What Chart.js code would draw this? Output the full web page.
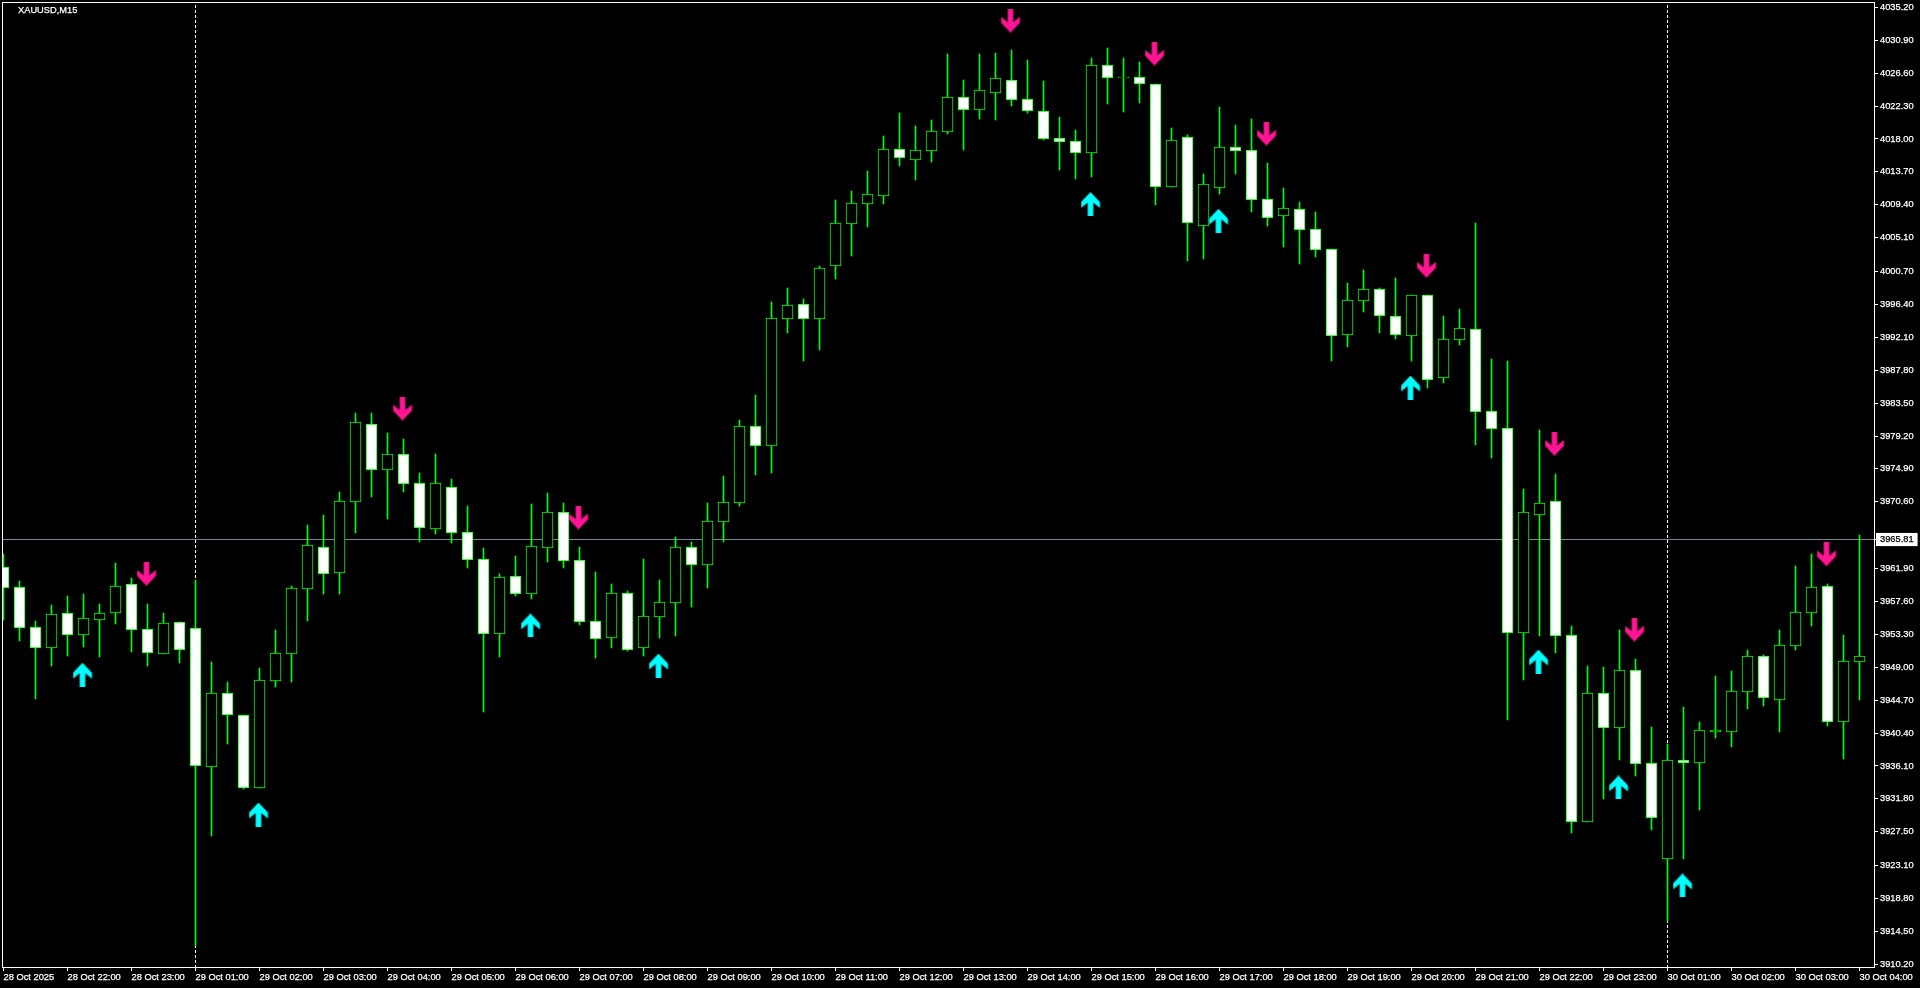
<!DOCTYPE html>
<html>
<head>
<meta charset="utf-8">
<title>XAUUSD,M15</title>
<script src="https://cdn.jsdelivr.net/npm/chart.js@4/dist/chart.umd.min.js"></script>
<style>
  html, body { margin: 0; padding: 0; background: #000; overflow: hidden; }
  canvas { display: block; }
</style>
</head>
<body>
<canvas id="chart" width="1920" height="988"></canvas>
<script>
const symbolLabel = "XAUUSD,M15";

const opens = [
  3962.01, 3959.41, 3954.22, 3951.57, 3955.98, 3953.24, 3955.20, 3956.18, 3959.80, 3953.92,
  3950.79, 3954.81, 3954.07, 3936.00, 3945.60, 3942.71, 3933.30, 3947.26, 3950.79, 3959.31,
  3964.65, 3961.37, 3970.68, 3980.72, 3974.84, 3976.80, 3973.03, 3967.15, 3972.49, 3966.61,
  3963.09, 3953.42, 3960.86, 3958.64, 3964.65, 3969.22, 3962.96, 3954.99, 3952.90, 3958.64,
  3951.59, 3955.64, 3957.47, 3964.65, 3962.43, 3968.05, 3970.53, 3980.46, 3977.98, 3994.57,
  3996.35, 3994.57, 4001.45, 4006.98, 4009.59, 4010.64, 4016.60, 4015.34, 4016.51, 4019.00,
  4023.39, 4021.87, 4024.09, 4025.66, 4023.13, 4021.56, 4018.04, 4017.65, 4016.25, 4027.57,
  4026.05, 4026.01, 4025.13, 4011.81, 4018.21, 4006.72, 4011.68, 4016.91, 4016.52, 4010.12,
  4008.03, 4008.81, 4006.20, 4003.58, 3992.48, 3996.92, 3998.36, 3994.83, 3992.35, 3997.58,
  3986.87, 3991.83, 3993.13, 3982.42, 3980.20, 3953.56, 3968.97, 3970.65, 3953.14, 3928.85,
  3945.58, 3941.14, 3948.58, 3936.41, 3923.99, 3936.76, 3936.53, 3940.61, 3940.66, 3945.82,
  3950.38, 3944.80, 3951.82, 3956.14, 3959.55, 3941.92, 3949.72
];
const closes = [
  3959.46, 3954.22, 3951.57, 3955.88, 3953.24, 3955.39, 3955.98, 3959.56, 3953.92, 3950.89,
  3954.71, 3951.33, 3936.19, 3945.60, 3942.85, 3933.30, 3947.26, 3950.79, 3959.31, 3964.90,
  3961.27, 3970.68, 3980.96, 3974.84, 3976.80, 3973.03, 3967.25, 3973.03, 3966.61, 3963.08,
  3953.42, 3960.73, 3958.64, 3964.78, 3969.22, 3962.96, 3954.99, 3952.77, 3958.64, 3951.33,
  3955.64, 3957.47, 3964.65, 3962.43, 3968.05, 3970.49, 3980.46, 3977.98, 3994.57, 3996.27,
  3994.57, 4001.10, 4006.98, 4009.59, 4010.77, 4016.64, 4015.60, 4016.47, 4019.00, 4023.44,
  4021.87, 4024.35, 4025.92, 4023.18, 4021.74, 4018.08, 4017.69, 4016.25, 4027.62, 4026.05,
  4026.05, 4025.26, 4011.81, 4017.82, 4007.11, 4012.07, 4016.91, 4016.52, 4010.12, 4007.76,
  4008.94, 4006.20, 4003.58, 3992.35, 3996.92, 3998.36, 3994.96, 3992.48, 3997.58, 3986.60,
  3991.83, 3993.27, 3982.42, 3980.20, 3953.56, 3969.15, 3970.41, 3953.14, 3928.85, 3945.58,
  3941.14, 3948.58, 3936.41, 3929.39, 3936.83, 3936.59, 3940.72, 3940.74, 3945.82, 3950.38,
  3945.04, 3951.82, 3956.14, 3959.43, 3941.92, 3949.78, 3950.38
];
const highs = [
  3963.72, 3960.19, 3955.00, 3957.11, 3958.23, 3958.53, 3957.21, 3962.50, 3960.59, 3957.21,
  3956.03, 3954.81, 3960.29, 3949.61, 3947.02, 3942.71, 3948.83, 3953.83, 3959.56, 3967.54,
  3968.86, 3971.85, 3982.09, 3982.09, 3979.59, 3978.76, 3974.25, 3976.80, 3973.57, 3969.94,
  3964.52, 3961.13, 3963.52, 3970.31, 3971.71, 3970.40, 3964.65, 3961.43, 3959.86, 3958.95,
  3963.09, 3960.34, 3965.96, 3965.31, 3970.40, 3973.93, 3981.24, 3984.55, 3996.66, 3998.49,
  3997.05, 4001.36, 4009.90, 4011.16, 4013.77, 4018.34, 4021.35, 4019.65, 4020.43, 4029.05,
  4025.66, 4029.05, 4029.18, 4029.58, 4028.27, 4025.53, 4020.82, 4019.13, 4028.53, 4029.84,
  4028.53, 4028.01, 4025.13, 4019.39, 4018.39, 4013.42, 4022.13, 4019.78, 4020.57, 4014.82,
  4011.55, 4009.72, 4008.42, 4003.58, 3999.14, 4000.84, 3998.49, 3999.80, 3997.58, 3997.58,
  3994.83, 3995.75, 4006.98, 3989.22, 3988.96, 3972.15, 3979.94, 3974.19, 3954.34, 3949.12,
  3949.00, 3953.80, 3950.02, 3941.08, 3938.92, 3943.72, 3941.74, 3947.80, 3948.46, 3951.22,
  3950.56, 3953.80, 3962.19, 3963.75, 3959.79, 3953.14, 3966.21
];
const lows = [
  3955.20, 3952.46, 3944.96, 3949.22, 3950.59, 3951.67, 3950.40, 3954.66, 3951.03, 3949.22,
  3950.79, 3949.61, 3912.59, 3927.08, 3939.03, 3933.16, 3933.30, 3946.53, 3947.07, 3955.10,
  3958.58, 3958.68, 3966.66, 3971.36, 3968.37, 3971.90, 3965.39, 3966.51, 3965.29, 3962.01,
  3943.19, 3950.37, 3958.34, 3957.95, 3962.78, 3962.00, 3954.55, 3950.24, 3951.55, 3951.16,
  3950.50, 3952.85, 3953.11, 3956.90, 3959.38, 3965.39, 3970.10, 3974.14, 3974.41, 3992.70,
  3989.04, 3990.48, 3999.75, 4002.84, 4006.54, 4009.55, 4014.51, 4012.68, 4015.03, 4018.69,
  4016.60, 4020.65, 4020.52, 4022.35, 4021.43, 4017.95, 4013.99, 4012.81, 4013.07, 4022.61,
  4021.56, 4022.74, 4009.42, 4011.81, 4002.10, 4002.37, 4010.86, 4013.47, 4008.50, 4006.68,
  4003.93, 4001.71, 4002.63, 3989.04, 3990.87, 3995.44, 3992.70, 3991.92, 3989.04, 3985.52,
  3986.17, 3991.13, 3978.14, 3976.35, 3942.22, 3947.44, 3953.20, 3950.98, 3927.47, 3928.85,
  3931.85, 3936.89, 3934.91, 3927.77, 3915.96, 3923.99, 3930.47, 3939.76, 3938.68, 3943.66,
  3944.02, 3940.66, 3951.28, 3954.40, 3941.44, 3937.13, 3944.74
];

// signal arrows: candle index and price level
const upArrowBars = [5, 16, 33, 41, 68, 76, 88, 96, 101, 105];
const upArrowPrices = [3948.02, 3929.76, 3954.45, 3949.22, 4009.50, 4007.32, 3985.53, 3949.74, 3933.29, 3920.49];
const downArrowBars = [9, 25, 36, 63, 72, 79, 89, 97, 102, 114];
const downArrowPrices = [3961.20, 3982.79, 3968.55, 4033.45, 4029.14, 4018.69, 4001.44, 3978.18, 3953.91, 3963.75];

const priceTicks = [
  4035.20, 4030.90, 4026.60, 4022.30, 4018.00, 4013.70, 4009.40, 4005.10, 4000.70, 3996.40,
  3992.10, 3987.80, 3983.50, 3979.20, 3974.90, 3970.60, 3961.90, 3957.60, 3953.30, 3949.00,
  3944.70, 3940.40, 3936.10, 3931.80, 3927.50, 3923.10, 3918.80, 3914.50, 3910.20
];
const lastPrice = 3965.68;
const lastPriceLabel = "3965.81";

const timeLabels = [
  "28 Oct 2025", "28 Oct 22:00", "28 Oct 23:00", "29 Oct 01:00", "29 Oct 02:00", "29 Oct 03:00",
  "29 Oct 04:00", "29 Oct 05:00", "29 Oct 06:00", "29 Oct 07:00", "29 Oct 08:00", "29 Oct 09:00",
  "29 Oct 10:00", "29 Oct 11:00", "29 Oct 12:00", "29 Oct 13:00", "29 Oct 14:00", "29 Oct 15:00",
  "29 Oct 16:00", "29 Oct 17:00", "29 Oct 18:00", "29 Oct 19:00", "29 Oct 20:00", "29 Oct 21:00",
  "29 Oct 22:00", "29 Oct 23:00", "30 Oct 01:00", "30 Oct 02:00", "30 Oct 03:00", "30 Oct 04:00"
];
const barsPerLabel = 4;
const daySeparators = [12, 104];

const LIME = "#00ff00";
const PINK = "#ff1493";
const CYAN = "#00ffff";
const fontFace = "'Liberation Sans', sans-serif";
const fontSize = 9.3;
const textStroke = 0.25;

const yMin = 3909.71;
const yMax = 4035.89;
const xMin = -0.09375;
const xMax = 116.96875;

// wingdings style arrow, the same shape for both signals
function makeArrow(color, pointsUp) {
  const c = document.createElement("canvas");
  c.width = 22;
  c.height = 24;
  const ctx = c.getContext("2d");
  if (!pointsUp) {
    ctx.translate(0, 24);
    ctx.scale(1, -1);
  }
  ctx.fillStyle = color;
  ctx.beginPath();
  ctx.moveTo(10, 0);
  ctx.lineTo(19.5, 10);
  ctx.lineTo(19.5, 16);
  ctx.lineTo(12.8, 10.5);
  ctx.lineTo(12.8, 24);
  ctx.lineTo(7.2, 24);
  ctx.lineTo(7.2, 10.5);
  ctx.lineTo(0.5, 16);
  ctx.lineTo(0.5, 10);
  ctx.closePath();
  ctx.fill();
  return c;
}

const barIndex = opens.map((_, i) => i);

// the layout must not grow to make room for overhanging tick labels
function noAxisPadding(axis) {
  axis.paddingLeft = 0;
  axis.paddingRight = 0;
  axis.paddingTop = 0;
  axis.paddingBottom = 0;
}

// keep candles on whole pixel rows so the outlines stay sharp
const snapPlugin = {
  id: "snap",
  beforeDatasetsDraw(chart) {
    chart.data.datasets.forEach((_, i) => {
      const meta = chart.getDatasetMeta(i);
      if (meta.type !== "bar") return;
      meta.data.forEach((el) => {
        const top = Math.min(el.y, el.base);
        const bottom = Math.max(el.y, el.base);
        el.y = Math.floor(top);
        el.base = Math.floor(bottom) + 1;
        el.height = el.base - el.y;
      });
    });
  }
};

const framePlugin = {
  id: "frame",
  afterDraw(chart) {
    const ctx = chart.ctx;
    const area = chart.chartArea;
    ctx.save();
    ctx.strokeStyle = "#ffffff";
    ctx.lineWidth = 1;
    ctx.strokeRect(area.left + 0.5, area.top + 0.5, area.right - area.left - 1, area.bottom - area.top - 1);
    ctx.fillStyle = "#ffffff";
    ctx.font = fontSize + "px " + fontFace;
    ctx.textBaseline = "middle";
    ctx.lineWidth = textStroke;
    ctx.strokeText(symbolLabel, 18, 10.5);
    ctx.fillText(symbolLabel, 18, 10.5);
    ctx.restore();
  }
};

const separatorSets = daySeparators.map((bar) => ({
  type: "scatter",
  showLine: true,
  data: [{ x: bar, y: yMin }, { x: bar, y: yMax }],
  borderColor: "#ffffff",
  borderWidth: 1,
  borderDash: [3, 2],
  pointRadius: 0,
  order: 4
}));

new Chart(document.getElementById("chart"), {
  type: "bar",
  data: {
    datasets: [
      ...separatorSets,
      {
        type: "scatter",
        showLine: true,
        data: [{ x: xMin, y: lastPrice }, { x: xMax, y: lastPrice }],
        borderColor: "#778899",
        borderWidth: 1,
        pointRadius: 0,
        order: 3
      },
      {
        data: barIndex.map((i) => ({ x: i, y: [lows[i], highs[i]] })),
        backgroundColor: LIME,
        borderWidth: 0,
        barThickness: 1,
        grouped: false,
        order: 2
      },
      {
        data: barIndex.map((i) => ({ x: i, y: [opens[i], closes[i]] })),
        backgroundColor: barIndex.map((i) => (closes[i] < opens[i] ? "#ffffff" : "#000000")),
        borderColor: LIME,
        borderWidth: 1,
        borderSkipped: false,
        barThickness: 11,
        grouped: false,
        order: 1
      },
      {
        type: "scatter",
        data: upArrowBars.map((b, i) => ({ x: b, y: upArrowPrices[i] })),
        pointStyle: makeArrow(CYAN, true),
        order: 0
      },
      {
        type: "scatter",
        data: downArrowBars.map((b, i) => ({ x: b, y: downArrowPrices[i] })),
        pointStyle: makeArrow(PINK, false),
        order: 0
      }
    ]
  },
  options: {
    responsive: false,
    animation: false,
    layout: { autoPadding: false, padding: { left: 2, top: 2, right: 0, bottom: 0 } },
    plugins: { legend: { display: false }, tooltip: { enabled: false } },
    scales: {
      x: {
        type: "linear",
        offset: false,
        min: xMin,
        max: xMax,
        border: { display: false },
        grid: { offset: false, drawOnChartArea: false, drawTicks: true, tickLength: 3, tickColor: "#ffffff" },
        afterBuildTicks(axis) {
          axis.ticks = timeLabels.map((_, i) => ({ value: i * barsPerLabel }));
        },
        afterFit(axis) {
          axis.height = 20;
          noAxisPadding(axis);
        },
        ticks: {
          autoSkip: false,
          maxRotation: 0,
          align: "start",
          padding: 1,
          color: "#ffffff",
          textStrokeColor: "#ffffff",
          textStrokeWidth: textStroke,
          font: { family: fontFace, size: fontSize },
          callback: (value) => timeLabels[value / barsPerLabel]
        }
      },
      y: {
        position: "right",
        min: yMin,
        max: yMax,
        border: { display: false },
        grid: { drawOnChartArea: false, drawTicks: true, tickLength: 3, tickColor: "#ffffff" },
        afterBuildTicks(axis) {
          axis.ticks = priceTicks.concat(lastPrice).map((v) => ({ value: v }));
        },
        afterFit(axis) {
          axis.width = 45;
          noAxisPadding(axis);
        },
        ticks: {
          autoSkip: false,
          padding: 2,
          crossAlign: "near",
          color: (ctx) => (ctx.tick.value === lastPrice ? "#000000" : "#ffffff"),
          textStrokeColor: (ctx) => (ctx.tick.value === lastPrice ? "#000000" : "#ffffff"),
          textStrokeWidth: textStroke,
          showLabelBackdrop: (ctx) => ctx.tick.value === lastPrice,
          backdropColor: "#ffffff",
          backdropPadding: { left: 4, right: 4, top: 1, bottom: 1 },
          font: { family: fontFace, size: fontSize },
          callback: (value) => (value === lastPrice ? lastPriceLabel : value.toFixed(2))
        }
      }
    }
  },
  plugins: [snapPlugin, framePlugin]
});
</script>
</body>
</html>
